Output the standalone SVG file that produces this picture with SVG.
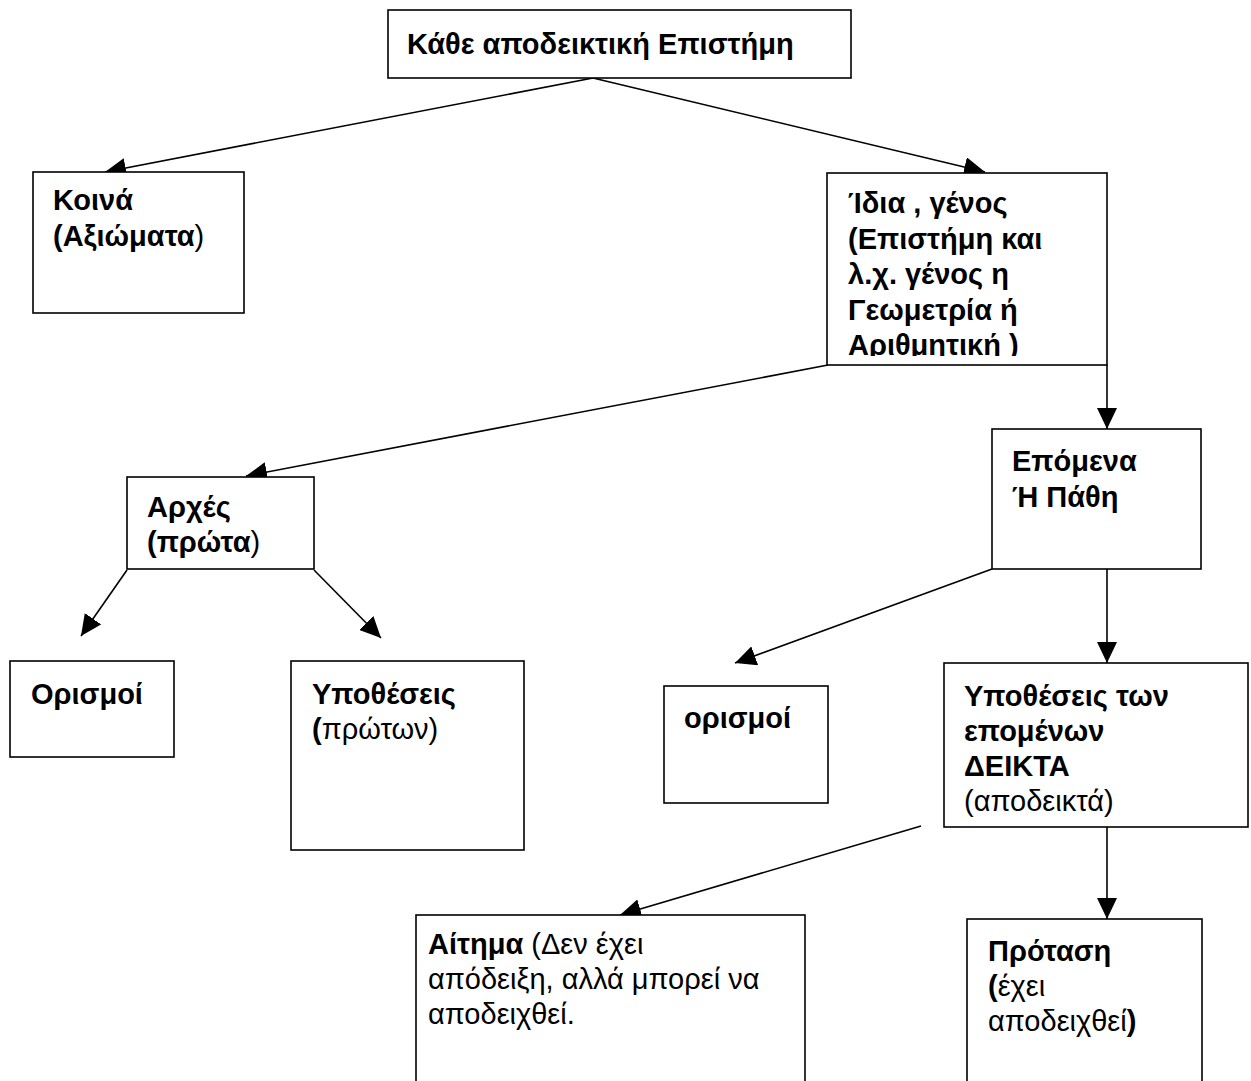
<svg xmlns="http://www.w3.org/2000/svg" width="1251" height="1081" viewBox="0 0 1251 1081">
<style>
.box{fill:#fff;stroke:#000;stroke-width:1.6}
.t{font-family:"Liberation Sans",Arial,sans-serif;font-size:29px;fill:#000}
.b{font-weight:bold}
.conn line{stroke:#000;stroke-width:1.6;marker-end:url(#ah)}
</style>
<defs>
<marker id="ah" markerUnits="userSpaceOnUse" markerWidth="22" markerHeight="20" refX="21" refY="10" orient="auto">
<path d="M0,0 L21,10 L0,20 z" fill="#000"/>
</marker>
<clipPath id="clipIdia"><rect x="827" y="173" width="280" height="183"/></clipPath>
</defs>
<g id="connectors" class="conn">
<line x1="593" y1="78" x2="105" y2="172"/>
<line x1="593" y1="78" x2="985" y2="172"/>
<line x1="828" y1="365" x2="246" y2="476"/>
<line x1="1107" y1="365" x2="1107" y2="429"/>
<line x1="127" y1="570" x2="81" y2="636"/>
<line x1="314" y1="570" x2="381" y2="638"/>
<line x1="992" y1="569" x2="735" y2="663"/>
<line x1="1107" y1="569" x2="1107" y2="663"/>
<line x1="921" y1="826" x2="620" y2="915"/>
<line x1="1107" y1="827" x2="1107" y2="919"/>
</g>
<g id="n-top">
<rect class="box" x="388" y="10" width="463" height="68"/>
<text class="t b" x="407" y="54">Κάθε αποδεικτική Επιστήμη</text>
</g>
<g id="n-koina">
<rect class="box" x="33" y="172" width="211" height="141"/>
<text class="t b" x="53" y="210">Κοινά</text>
<text class="t" x="53" y="246"><tspan class="b">(Αξιώματα</tspan>)</text>
</g>
<g id="n-idia">
<rect class="box" x="827" y="173" width="280" height="192"/>
<g clip-path="url(#clipIdia)">
<text class="t b" x="848" y="213">Ίδια , γένος</text>
<text class="t b" x="848" y="249">(Επιστήμη και</text>
<text class="t b" x="848" y="284">λ.χ. γένος η</text>
<text class="t b" x="848" y="320">Γεωμετρία ή</text>
<text class="t b" x="848" y="355">Αριθμητική )</text>
</g>
</g>
<g id="n-epomena">
<rect class="box" x="992" y="429" width="209" height="140"/>
<text class="t b" x="1012" y="471">Επόμενα</text>
<text class="t b" x="1012" y="507">Ή Πάθη</text>
</g>
<g id="n-arxes">
<rect class="box" x="127" y="477" width="187" height="92"/>
<text class="t b" x="147" y="517">Αρχές</text>
<text class="t" x="147" y="552"><tspan class="b">(πρώτα</tspan>)</text>
</g>
<g id="n-orismoi1">
<rect class="box" x="10" y="661" width="164" height="96"/>
<text class="t b" x="31" y="704">Ορισμοί</text>
</g>
<g id="n-ypotheseis1">
<rect class="box" x="291" y="661" width="233" height="189"/>
<text class="t b" x="312" y="704">Υποθέσεις</text>
<text class="t" x="312" y="739"><tspan class="b">(</tspan>πρώτων)</text>
</g>
<g id="n-orismoi2">
<rect class="box" x="664" y="686" width="164" height="117"/>
<text class="t b" x="684" y="728">ορισμοί</text>
</g>
<g id="n-ypotheseis2">
<rect class="box" x="944" y="663" width="304" height="164"/>
<text class="t b" x="964" y="706">Υποθέσεις των</text>
<text class="t b" x="964" y="741">επομένων</text>
<text class="t b" x="964" y="776">ΔΕΙΚΤΑ</text>
<text class="t" x="964" y="811">(αποδεικτά)</text>
</g>
<g id="n-aitima">
<rect class="box" x="416" y="915" width="389" height="200"/>
<text class="t" x="428" y="954"><tspan class="b">Αίτημα</tspan> (Δεν έχει</text>
<text class="t" x="428" y="989">απόδειξη, αλλά μπορεί να</text>
<text class="t" x="428" y="1024">αποδειχθεί.</text>
</g>
<g id="n-protasi">
<rect class="box" x="967" y="919" width="235" height="200"/>
<text class="t b" x="988" y="961">Πρόταση</text>
<text class="t" x="988" y="996"><tspan class="b">(</tspan>έχει</text>
<text class="t" x="988" y="1031">αποδειχθεί<tspan class="b">)</tspan></text>
</g>
</svg>
